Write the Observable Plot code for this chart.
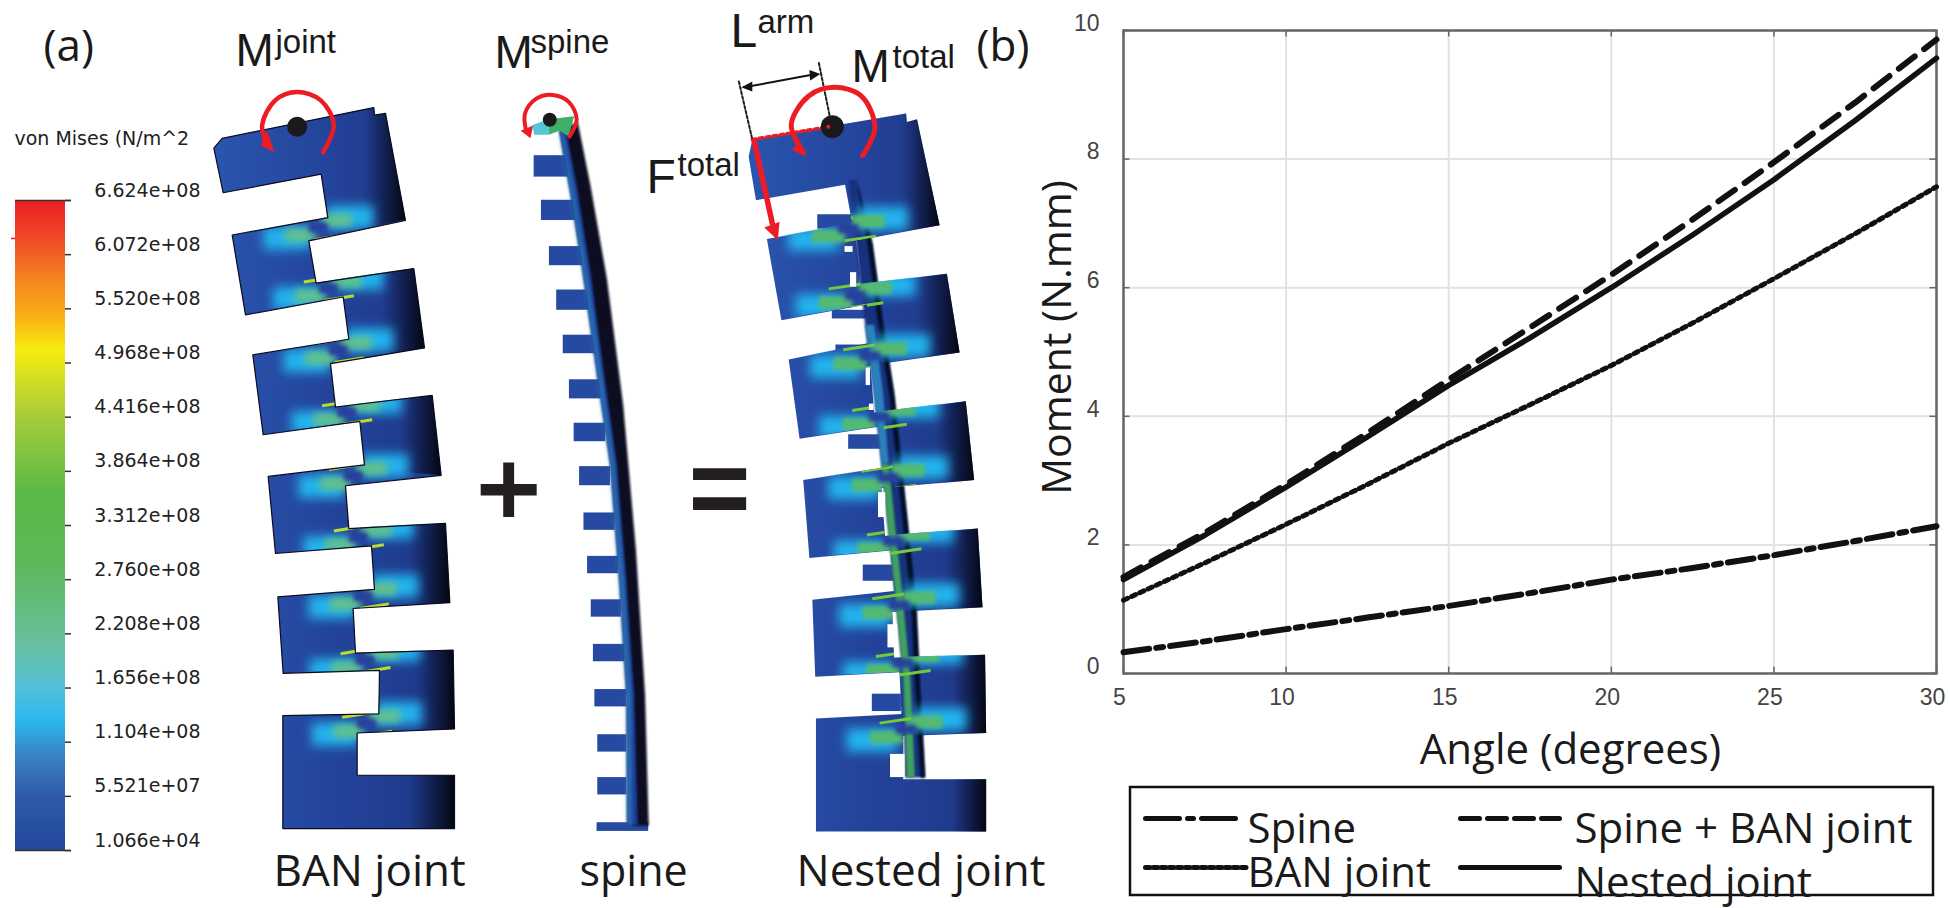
<!DOCTYPE html>
<html><head><meta charset="utf-8">
<script src="https://cdn.jsdelivr.net/npm/d3@7"></script>
<script src="https://cdn.jsdelivr.net/npm/@observablehq/plot@0.6"></script>
<style>
html,body{margin:0;padding:0;background:#fff;overflow:hidden}
#wrap{position:relative;width:1950px;height:908px}
#wrap svg{position:absolute;left:0;top:0;background:transparent;overflow:visible}
</style></head><body><div id="wrap"></div>
<script>
// ---------- chart data ----------
const angles = [5, 7.5, 10, 12.5, 15, 17.5, 20, 22.5, 25, 27.5, 30];
const spine = [0.33, 0.50, 0.69, 0.87, 1.05, 1.25, 1.46, 1.64, 1.84, 2.06, 2.29];
const banJoint = [1.14, 1.72, 2.32, 2.94, 3.58, 4.18, 4.79, 5.45, 6.14, 6.84, 7.57];
const spinePlusBan = [1.50, 2.19, 2.94, 3.74, 4.57, 5.38, 6.20, 7.06, 7.95, 8.88, 9.86];
const nestedJoint = [1.46, 2.15, 2.90, 3.68, 4.48, 5.22, 6.00, 6.82, 7.68, 8.60, 9.57];
const xTicks = [5, 10, 15, 20, 25, 30];
const yTicks = [0, 2, 4, 6, 8, 10];
const colorbarLabels = ["6.624e+08","6.072e+08","5.520e+08","4.968e+08","4.416e+08","3.864e+08","3.312e+08","2.760e+08","2.208e+08","1.656e+08","1.104e+08","5.521e+07","1.066e+04"];
const colorbarStops = [[0,"#ed1c24"],[.06,"#ef4a26"],[.12,"#f58220"],[.18,"#fbb017"],[.23,"#f7ec0f"],[.33,"#a9cd39"],[.45,"#5ab947"],[.56,"#5cb85a"],[.68,"#68c09c"],[.75,"#54c0d8"],[.80,"#2ab8ee"],[.86,"#3a7ec0"],[.92,"#2d5aa8"],[1,"#24479c"]];

const INK = "#111";
const tbl = ys => angles.map((a,i)=>({a, m:ys[i]}));

// ---------- right panel: the chart ----------
const chart = Plot.plot({
  width:1950, height:908, marginLeft:1123, marginRight:14, marginTop:30, marginBottom:235,
  x:{domain:[5,30]}, y:{domain:[0,10]},
  marks:[
    Plot.ruleX(xTicks,{stroke:"#e2e2e2",strokeWidth:2}),
    Plot.ruleY(yTicks,{stroke:"#e2e2e2",strokeWidth:2}),
    Plot.axisX({ticks:xTicks,anchor:"bottom",tickSize:0,tickPadding:15,dx:-4,fontSize:23,fill:"#444",fontFamily:"Liberation Sans",label:null}),
    Plot.axisY({ticks:yTicks,anchor:"left",tickSize:0,tickPadding:24,dy:-7,fontSize:23,fill:"#444",fontFamily:"Liberation Sans",label:null}),
    Plot.frame({stroke:"#666",strokeWidth:2.5}),
    Plot.ruleX(xTicks,{y1:0,y2:0.1,stroke:"#666",strokeWidth:1.5}),
    Plot.ruleX(xTicks,{y1:10,y2:9.9,stroke:"#666",strokeWidth:1.5}),
    Plot.ruleY(yTicks,{x1:5,x2:5.2,stroke:"#666",strokeWidth:1.5}),
    Plot.ruleY(yTicks,{x1:30,x2:29.8,stroke:"#666",strokeWidth:1.5}),
    Plot.line(tbl(spine),{x:"a",y:"m",stroke:INK,strokeWidth:6,strokeDasharray:"26 7 7 7"}),
    Plot.line(tbl(banJoint),{x:"a",y:"m",stroke:INK,strokeWidth:5,strokeDasharray:"4.5 4.5"}),
    Plot.line(tbl(spinePlusBan),{x:"a",y:"m",stroke:INK,strokeWidth:6,strokeDasharray:"20 12"}),
    Plot.line(tbl(nestedJoint),{x:"a",y:"m",stroke:INK,strokeWidth:5.5})
  ]
});
document.getElementById("wrap").append(chart);

// ---------- left panel schematic, in picture coordinates ----------
const SY = 1.727;
const A = p => p.map(([x,y])=>[x/3, y/SY]);
const B = p => p.map(([x,y])=>[470+x/2.75, y/SY]);
const rows = pts => pts.map(([x,y])=>({x,y}));
const pathOf = pts => "M"+pts.map(p=>p.join(",")).join("L")+"Z";
const tag = label => label ? {ariaLabel:()=>label} : {};
const poly = (pts,fill,label) => Plot.line(rows(pts),{x:"x",y:"y",fill,stroke:"none",curve:"linear-closed",...tag(label)});
const ring = (pts,color,w) => Plot.line(rows(pts),{x:"x",y:"y",fill:"none",stroke:color,strokeWidth:w,curve:"linear-closed"});
const stroke = (pts,color,w,o={}) => Plot.line(rows(pts),{x:"x",y:"y",stroke:color,strokeWidth:w,...o});
const rectsOf = (list,conv,fill,label) => Plot.rect(list.map(([a,b,c,d])=>{const [[x1,y1],[x2,y2]]=conv([[a,b],[c,d]]);return {x1,y1,x2,y2};}),{x1:"x1",x2:"x2",y1:"y1",y2:"y2",fill,...tag(label)});
const linksOf = (list,conv,color,w,label) => Plot.link(list.map(([a,b,c,d])=>{const [[x1,y1],[x2,y2]]=conv([[a,b],[c,d]]);return {x1,y1,x2,y2};}),{x1:"x1",x2:"x2",y1:"y1",y2:"y2",stroke:color,strokeWidth:w,...tag(label)});

// BAN joint outline
const banOutline = A([[640,255],[668,332],[962,300],[982,375],[695,405],[735,543],[1028,512],[1045,585],[757,612],[788,750],[1078,727],[1092,802],[803,822],[825,955],[1113,942],[1122,1017],[832,1030],[848,1162],[1137,1157],[1135,1232],[847,1235],[847,1430],[1362,1430],[1362,1338],[1070,1338],[1070,1265],[1362,1258],[1358,1122],[1065,1127],[1058,1050],[1348,1040],[1335,903],[1045,912],[1035,838],[1322,820],[1295,682],[1005,702],[990,627],[1272,600],[1240,463],[947,488],[925,415],[1215,380],[1155,195],[1122,198],[1120,185],[665,238]]);
const banDark = [
 [[960,197],[1120,185],[1122,198],[1155,195],[1215,378],[1020,402]],
 [[1015,478],[1240,463],[1272,600],[1040,620]],
 [[1075,695],[1295,682],[1322,820],[1095,808]],
 [[1100,912],[1335,903],[1348,1040],[1120,1046]],
 [[1125,1125],[1358,1122],[1362,1258],[1125,1262]],
 [[1090,1338],[1362,1338],[1362,1430],[1090,1430]]
].map(A);
const banNecks = [[955,393],[985,498],[1015,605],[1040,712],[1060,822],[1075,928],[1090,1030],[1095,1140],[1100,1250]];

// Nested joint outline
const nestOutline = B([[765,270],[775,240],[1198,195],[1200,210],[1228,205],[1290,388],[1060,415],[1075,490],[1310,472],[1345,608],[1100,630],[1110,712],[1362,692],[1385,828],[1130,842],[1140,925],[1395,912],[1408,1048],[1160,1056],[1165,1135],[1415,1130],[1418,1265],[1190,1270],[1190,1345],[1418,1345],[1418,1435],[950,1435],[950,1240],[1185,1232],[1180,1160],[948,1168],[940,1035],[1165,1020],[1155,950],[932,963],[915,828],[1150,805],[1135,735],[905,757],[875,620],[1105,590],[1090,525],[855,552],[815,412],[1050,385],[1030,318],[785,345]]);
const nestDark = [
 [[1080,205],[1198,195],[1200,210],[1228,205],[1290,388],[1110,408]],
 [[1110,486],[1310,472],[1345,608],[1150,625]],
 [[1170,708],[1362,692],[1385,828],[1190,840]],
 [[1200,922],[1395,912],[1408,1048],[1220,1055]],
 [[1230,1133],[1415,1130],[1418,1265],[1230,1268]],
 [[1230,1345],[1418,1345],[1418,1435],[1230,1435]]
].map(B);
const nestNecks = [[1040,395],[1060,510],[1100,615],[1125,720],[1150,825],[1165,935],[1180,1045],[1190,1145],[1200,1260]];
const nestSpineLeft = [[1040,310],[1060,420],[1085,560],[1110,680],[1130,800],[1150,920],[1170,1040],[1190,1170],[1195,1342]];
const nestSpineRight = [[1250,1342],[1235,1170],[1225,1040],[1205,920],[1185,800],[1165,680],[1135,560],[1105,420],[1062,310]];
const nestSpine = B([...nestSpineLeft,...nestSpineRight]);
const nestTeeth = [[955,370,1060,395],[995,535,1090,550],[1005,595,1100,606],[1040,750,1130,775],[1080,975,1165,1003],[1105,1198,1185,1228]];
const nestHoles = [[1030,425,1052,435],[1045,470,1062,495],[1088,635,1100,665],[1097,697,1110,708],[1122,850,1142,893],[1148,1078,1175,1118],[1155,1302,1195,1342]];

// Spine
const spineLeftEdge = [[245,225],[275,330],[310,470],[350,650],[385,800],[410,1000],[430,1200],[432,1425]];
const spineRightEdge = [[490,1425],[480,1200],[455,950],[420,700],[375,480],[330,320],[295,210]];
const spineBody = B([...spineLeftEdge,...spineRightEdge]);
const spineMid = B([...spineLeftEdge,[460,1425],[450,1200],[428,1000],[402,800],[368,650],[330,470],[295,330],[262,222]]);
const spineLight = B([...spineLeftEdge,[442,1425],[440,1200],[420,1000],[394,800],[360,650],[320,470],[284,330],[252,224]]);
const spineTeeth = [[175,268,270,305],[195,345,290,380],[217,425,310,458],[237,500,330,535],[255,578,345,610],[272,655,360,688],[285,730,372,762],[300,805,385,838],[312,885,398,915],[322,960,408,990],[332,1035,415,1065],[338,1112,425,1142],[342,1190,430,1220],[350,1268,430,1298],[350,1342,430,1372],[348,1420,490,1435]];

// Stress blobs around each neck
function neckBlobs(necks){
  const glow=[], green=[], core=[], edge=[];
  necks.forEach(([cx,cy])=>{
    glow.push([cx-165,cy-2,cx-25,cy+38],[cx+25,cy-38,cx+165,cy+2]);
    green.push([cx-100,cy+2,cx-10,cy+24],[cx+10,cy-24,cx+100,cy-2]);
    core.push([cx-28,cy-8,cx+28,cy+8]);
    edge.push([cx-75,cy-12,cx+12,cy-20],[cx-12,cy+20,cx+75,cy+12]);
  });
  return {glow,green,core,edge};
}
const banB = neckBlobs(banNecks);
const nestB = neckBlobs(nestNecks);

// Texts
const T = (x,y,text,o={}) => Plot.text([{x,y,text}],{x:"x",y:"y",text:"text",textAnchor:"start",lineAnchor:"bottom",fill:"#1a1a1a",fontFamily:"Open Sans",fontSize:40,...o});
const ARIAL = {fontFamily:"Liberation Sans"};
const tickLabelRows = colorbarLabels.map((t,i)=>({t,y:190+i*54.17}));
const tickMarkRows = colorbarLabels.map((t,i)=>({y:200+i*54.17}));

const marks = [
  // colour bar
  Plot.rect([{x1:15,x2:65,y1:200,y2:850}],{x1:"x1",x2:"x2",y1:"y1",y2:"y2",fill:"url(#cbar)"}),
  Plot.ruleY(tickMarkRows,{y:"y",x1:65,x2:71,stroke:"#333",strokeWidth:1.5}),
  Plot.ruleY([{y:200},{y:850}],{y:"y",x1:15,x2:71,stroke:"#333",strokeWidth:1.5}),
  Plot.ruleY([{y:238}],{y:"y",x1:11,x2:15,stroke:"#ed1c24",strokeWidth:1.5}),
  Plot.text(tickLabelRows,{x:200,y:"y",text:"t",textAnchor:"end",fontFamily:"DejaVu Sans",fontSize:19,fill:"#222"}),
  T(14,138,"von Mises (N/m^2",{fontFamily:"DejaVu Sans",fontSize:19,lineAnchor:"middle",fill:"#222"}),

  // BAN joint
  poly(banOutline,"url(#base)"),
  ...banDark.map(q=>poly(q,"url(#dark)")),
  rectsOf(banB.glow,A,"#22b4ee","banGlow"),
  rectsOf(banB.green,A,"#62c08c","banGreen"),
  rectsOf(banB.core,A,"#27409e","banCore"),
  linksOf(banB.edge,A,"#b9dc2e",3,"banEdge"),
  ring(banOutline,"#0b0b1e",1.2),

  // Spine
  ...spineTeeth.map(t=>rectsOf([t],B,"#2649a2")),
  poly(spineBody,"#070b22","sblur"),
  poly(spineMid,"#1c3b95","sblur"),
  poly(spineLight,"#2f86c4","sblur2"),
  poly(B([[170,215],[215,205],[215,232],[175,232]]),"#55c6d8"),
  poly(B([[215,205],[285,200],[270,235],[245,225],[215,232]]),"#3fae66"),

  // Nested joint
  poly(nestOutline,"url(#base)"),
  ...nestDark.map(q=>poly(q,"url(#dark)")),
  ...nestTeeth.map(t=>rectsOf([t],B,"#2649a2")),
  poly(nestSpine,"#16307e","nsblur"),
  poly(B([[1130,800],[1150,800],[1170,920],[1190,1040],[1210,1170],[1222,1342],[1200,1342],[1190,1170],[1170,1040],[1150,920]]),"#3fa060","nsblur"),
  poly(B([[1085,560],[1110,560],[1135,680],[1150,800],[1130,800],[1110,680]]),"#2a80bb","nsblur"),
  poly(B([[1135,560],[1165,680],[1185,800],[1205,920],[1225,1040],[1235,1170],[1250,1342],[1238,1342],[1222,1170],[1212,1040],[1192,920],[1172,800],[1152,680],[1122,560],[1092,420],[1062,310],[1105,420]]),"#060a20","nsblur"),
  rectsOf(nestB.glow,B,"#22b4ee","nestGlow"),
  rectsOf(nestB.green,B,"#55ba70","nestGreen"),
  rectsOf(nestB.core,B,"#27409e","nestCore"),
  linksOf(nestB.edge,B,"#74c83a",3,"nestEdge"),
  rectsOf(nestHoles,B,"#fff"),

  // Red moment arcs, dots
  Plot.dot([A([[890,218]])[0]],{x:d=>d[0],y:d=>d[1],r:10,fill:"#1a1a1a"}),
  stroke(A([[800,250],[785,215],[825,172],[890,158],[960,172],[1000,215],[968,262]]),"#ed1c24",4.5,{curve:"catmull-rom"}),
  poly(A([[780,250],[822,262],[800,225]]),"#ed1c24"),

  Plot.dot([B([[218,206]])[0]],{x:d=>d[0],y:d=>d[1],r:7,fill:"#1a1a1a"}),
  stroke(B([[152,222],[150,195],[180,170],[225,163],[270,175],[292,205],[272,235]]),"#ed1c24",4,{curve:"catmull-rom"}),
  poly(B([[138,225],[172,216],[165,238]]),"#ed1c24"),

  stroke(B([[775,240],[985,218]]),"#ed1c24",3.5,{strokeDasharray:"3.5 3.5"}),
  stroke(B([[738,140],[775,240]]),"#222",2,{strokeDasharray:"3 2"}),
  stroke(B([[958,108],[988,200]]),"#222",2,{strokeDasharray:"3 2"}),
  Plot.dot([B([[995,218]])[0]],{x:d=>d[0],y:d=>d[1],r:11.5,fill:"#1a1a1a"}),
  Plot.dot([B([[984,218]])[0]],{x:d=>d[0],y:d=>d[1],r:2,fill:"#ed1c24"}),
  stroke(B([[915,262],[882,215],[930,165],[1000,150],[1075,165],[1112,220],[1078,268]]),"#ed1c24",5,{curve:"catmull-rom"}),
  poly(B([[885,258],[922,270],[905,240]]),"#ed1c24"),
  stroke(B([[752,150],[950,127]]),"#111",2),
  poly(B([[745,150],[775,140],[775,157]]),"#111"),
  poly(B([[962,127],[932,120],[934,138]]),"#111"),
  stroke(B([[780,242],[830,385]]),"#ed1c24",5.5),
  poly(B([[808,392],[850,382],[845,414]]),"#ed1c24"),

  // Big symbols
  poly(B([[28,835],[90,835],[90,798],[120,798],[120,835],[182,835],[182,855],[120,855],[120,892],[90,892],[90,855],[28,855]]),"#231f20"),
  poly(B([[612,808],[758,808],[758,828],[612,828]]),"#231f20"),
  poly(B([[612,858],[758,858],[758,880],[612,880]]),"#231f20"),

  // Labels
  T(43,60,"(a)",{fontSize:44}),
  T(976,60,"(b)",{fontSize:44}),
  T(235,65,"M",{...ARIAL,fontSize:46}), T(275,52,"joint",{...ARIAL,fontSize:33}),
  T(494,67,"M",{...ARIAL,fontSize:46}), T(530,52,"spine",{...ARIAL,fontSize:33}),
  T(730,46,"L",{...ARIAL,fontSize:48}), T(757,32,"arm",{...ARIAL,fontSize:33}),
  T(851,81,"M",{...ARIAL,fontSize:46}), T(892,67,"total",{...ARIAL,fontSize:33}),
  T(646,192,"F",{...ARIAL,fontSize:48}), T(677,175,"total",{...ARIAL,fontSize:33}),
  T(273,885,"BAN joint",{fontSize:44}),
  T(579,885,"spine",{fontSize:43}),
  T(796,885,"Nested joint",{fontSize:44}),

  // Axis titles
  Plot.text([{x:1057,y:337,t:"Moment (N.mm)"}],{x:"x",y:"y",text:"t",rotate:-90,fontFamily:"Open Sans",fontSize:41,fill:"#1a1a1a"}),
  Plot.text([{x:1570,y:750,t:"Angle (degrees)"}],{x:"x",y:"y",text:"t",fontFamily:"Open Sans",fontSize:42,fill:"#1a1a1a"}),

  // Legend
  Plot.rect([{x1:1130,x2:1933,y1:787,y2:895}],{x1:"x1",x2:"x2",y1:"y1",y2:"y2",fill:"none",stroke:"#111",strokeWidth:2.5}),
  stroke([[1145,818],[1235,818]],INK,5,{strokeDasharray:"34 8 6 8 34"}),
  stroke([[1460,818],[1559,818]],INK,5,{strokeDasharray:"19 8"}),
  stroke([[1145,867],[1246,867]],INK,5,{strokeDasharray:"4.5 3.5"}),
  stroke([[1460,867],[1559,867]],INK,5),
  T(1247,842,"Spine",{fontSize:42}),
  T(1574,842,"Spine + BAN joint",{fontSize:42}),
  T(1247,886,"BAN joint",{fontSize:42}),
  T(1574,896,"Nested joint",{fontSize:42})
];

const art = Plot.plot({
  width:1950, height:908, margin:0, axis:null,
  x:{domain:[0,1950],range:[0,1950]}, y:{domain:[0,908],range:[0,908]},
  marks
});
document.getElementById("wrap").append(art);

// Gradients, blur filters, clip paths used by the schematic
const defs = d3.select(art).append("defs");
const lin = (id,stops,attrs={x1:0,y1:0,x2:1,y2:0})=>{
  const g=defs.append("linearGradient").attr("id",id);
  Object.entries(attrs).forEach(([k,v])=>g.attr(k,v));
  stops.forEach(([o,c,a=1])=>g.append("stop").attr("offset",o).attr("stop-color",c).attr("stop-opacity",a));
};
lin("cbar",colorbarStops,{x1:0,y1:0,x2:0,y2:1});
lin("base",[[0,"#2a55ae"],[.5,"#23439a"],[1,"#1f3a8c"]]);
lin("dark",[[0,"#0a0f30",0],[.5,"#0a0f30",.05],[.78,"#080c24",.65],[1,"#04060f",1]]);
const blur=(id,s)=>defs.append("filter").attr("id",id).attr("filterUnits","userSpaceOnUse").attr("x",0).attr("y",0).attr("width",1950).attr("height",908)
  .append("feGaussianBlur").attr("stdDeviation",s);
blur("b6",5.5); blur("b3",3.5); blur("b2",2); blur("b1",1.1); blur("b05",.6);
const clip=(id,pts)=>defs.append("clipPath").attr("id",id).append("path").attr("d",pathOf(pts));
clip("cban",banOutline); clip("cnest",nestOutline);
// clip outside, blur inside: each tagged shape is wrapped in a clipped group
const fx=(label,f,c)=>d3.select(art).selectAll(`[aria-label="${label}"]`).attr("filter",`url(#${f})`).each(function(){
  const p=this.parentNode; if(c) p.setAttribute("clip-path",`url(#${c})`);
});
fx("banGlow","b6","cban"); fx("banGreen","b3","cban"); fx("banCore","b2","cban"); fx("banEdge","b05","cban");
fx("nestGlow","b6","cnest"); fx("nestGreen","b2","cnest"); fx("nestCore","b2","cnest"); fx("nestEdge","b05","cnest");
fx("sblur","b1"); fx("sblur2","b2"); fx("nsblur","b1");
</script></body></html>
